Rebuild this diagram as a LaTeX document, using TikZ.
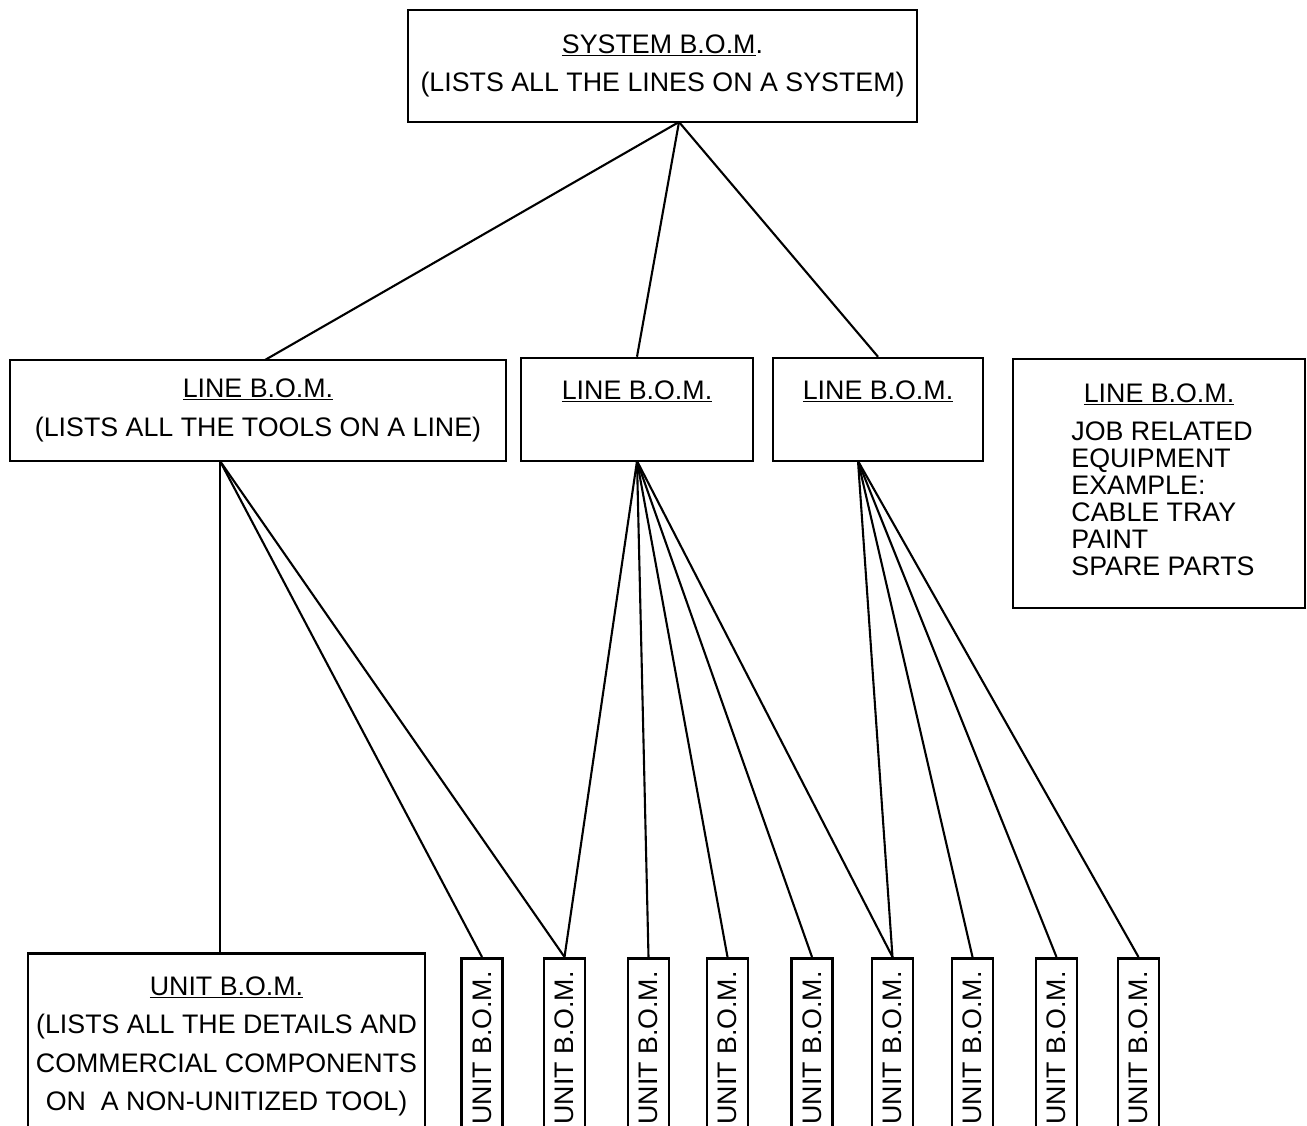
\documentclass[tikz,border=0pt]{standalone}
\usepackage{fontspec}
\setmainfont{Liberation Sans}
\usepackage{tikz}

\begin{document}
\begin{tikzpicture}[x=1pt,y=-1pt,
  every node/.style={draw,rectangle,line width=2.5pt,inner sep=0pt,align=center,
    font=\fontsize{26.8}{38.5}\selectfont},
  unitbox/.style={rotate=90,anchor=east,minimum height=41pt,inner xsep=13pt},
  link/.style={line width=2.1pt}]
\useasboundingbox (0,0) rectangle (1307,1126);

% top level
\node[minimum width=509pt,minimum height=112pt] (sys) at (662.5,66)
  {\underline{SYSTEM B.O.M}.\\(LISTS ALL THE LINES ON A SYSTEM)};

% line level
\node[minimum width=496pt,minimum height=101pt] (lb1) at (258,410.5)
  {\underline{LINE B.O.M.}\\(LISTS ALL THE TOOLS ON A LINE)};
\node[minimum width=232pt,minimum height=103pt] (lb2) at (637,409.5)
  {\underline{LINE B.O.M.}\\\mbox{}};
\node[minimum width=210pt,minimum height=103pt] (lb3) at (878,409.5)
  {\underline{LINE B.O.M.}\\\mbox{}};
\node[minimum width=292pt,minimum height=249pt] (lb4) at (1159,483.5)
  {\underline{LINE B.O.M.}\\\hspace*{8pt}\def\arraystretch{0.7}\begin{tabular}[t]{@{}l@{}}JOB RELATED\\EQUIPMENT\\EXAMPLE:\\CABLE TRAY\\PAINT\\SPARE PARTS\end{tabular}};

% unit level
\node[minimum width=397pt,inner ysep=23.5pt,anchor=north] (ub0) at (226.5,952)
  {\underline{UNIT B.O.M.}\\(LISTS ALL THE DETAILS AND\\COMMERCIAL COMPONENTS\\ON\ \ A NON-UNITIZED TOOL)};
\node[unitbox] (u1) at (482,957) {UNIT B.O.M.};
\node[unitbox] (u2) at (564.5,957) {UNIT B.O.M.};
\node[unitbox] (u3) at (648.5,957) {UNIT B.O.M.};
\node[unitbox] (u4) at (727.5,957) {UNIT B.O.M.};
\node[unitbox] (u5) at (812,957) {UNIT B.O.M.};
\node[unitbox] (u6) at (892.5,957) {UNIT B.O.M.};
\node[unitbox] (u7) at (972.5,957) {UNIT B.O.M.};
\node[unitbox] (u8) at (1056.5,957) {UNIT B.O.M.};
\node[unitbox] (u9) at (1138.5,957) {UNIT B.O.M.};

% fan points
\coordinate (sysout) at (679,122);
\coordinate (lb1in) at (265,360);
\coordinate (lb1out) at (220,461);
\coordinate (lb2out) at (637,461);
\coordinate (lb3out) at (858,461);
\coordinate (ub0in) at (220,952);

\draw[link] (sysout) -- (lb1in);
\draw[link] (sysout) -- (lb2.north);
\draw[link] (sysout) -- (lb3.north);

\draw[link] (lb1out) -- (ub0in);
\draw[link] (lb1out) -- (u1.east);
\draw[link] (lb1out) -- (u2.east);

\draw[link] (lb2out) -- (u2.east);
\draw[link] (lb2out) -- (u3.east);
\draw[link] (lb2out) -- (u4.east);
\draw[link] (lb2out) -- (u5.east);
\draw[link] (lb2out) -- (u6.east);

\draw[link] (lb3out) -- (u6.east);
\draw[link] (lb3out) -- (u7.east);
\draw[link] (lb3out) -- (u8.east);
\draw[link] (lb3out) -- (u9.east);
\end{tikzpicture}
\end{document}
